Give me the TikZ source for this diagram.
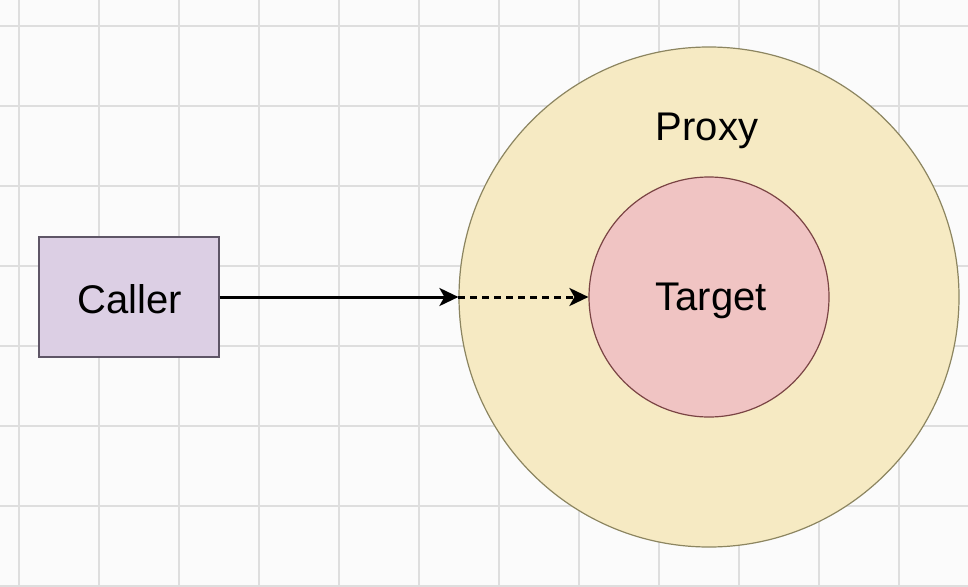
\documentclass[tikz,border=0pt]{standalone}
\usepackage{fontspec}
\setmainfont{Liberation Sans}
\usetikzlibrary{arrows.meta}
\definecolor{gridc}{HTML}{DEDEDE}
\definecolor{bgc}{HTML}{FBFBFB}
\definecolor{callerfill}{HTML}{DCCFE4}
\definecolor{callerdraw}{HTML}{5E5566}
\definecolor{proxyfill}{HTML}{F6EAC3}
\definecolor{proxydraw}{HTML}{8C8560}
\definecolor{targetfill}{HTML}{F0C4C3}
\definecolor{targetdraw}{HTML}{7A4444}
\tikzset{
  lbl/.style={font=\fontsize{40}{45}\selectfont, text=black},
  callerbox/.style={draw=callerdraw, fill=callerfill, line width=1.3pt, minimum width=180pt, minimum height=120pt, inner sep=0pt},
  ring/.style={circle, inner sep=0pt, line width=1.2pt},
  conn/.style={line width=3pt, -{Stealth[length=19pt, width=18pt, inset=5pt]}},
}
\begin{document}
\begin{tikzpicture}[x=1pt, y=-1pt]
\useasboundingbox (0,0) rectangle (968,586);
\fill[bgc] (0,0) rectangle (968,586);
\foreach \gx in {19,99,...,979} \draw[gridc, line width=1.2pt] (\gx,0) -- (\gx,586);
\foreach \gy in {26,106,...,586} \draw[gridc, line width=1.2pt] (0,\gy) -- (968,\gy);
\node[callerbox] (caller) at (129,297) {};
\node[lbl] (callertext) at (130,299) {Caller};
\node[ring, draw=proxydraw, fill=proxyfill, minimum size=500pt] (proxy) at (709,297) {};
\node[lbl] (proxytext) at (707,131) {Proxy};
\node[ring, draw=targetdraw, fill=targetfill, minimum size=240pt] (target) at (709,297) {};
\node[lbl] (targettext) at (711,301) {Target};
\draw[conn] (caller.east) -- (proxy.west);
\draw[conn, dash pattern=on 7pt off 5pt] (proxy.west) -- (target.west);
\end{tikzpicture}
\end{document}
